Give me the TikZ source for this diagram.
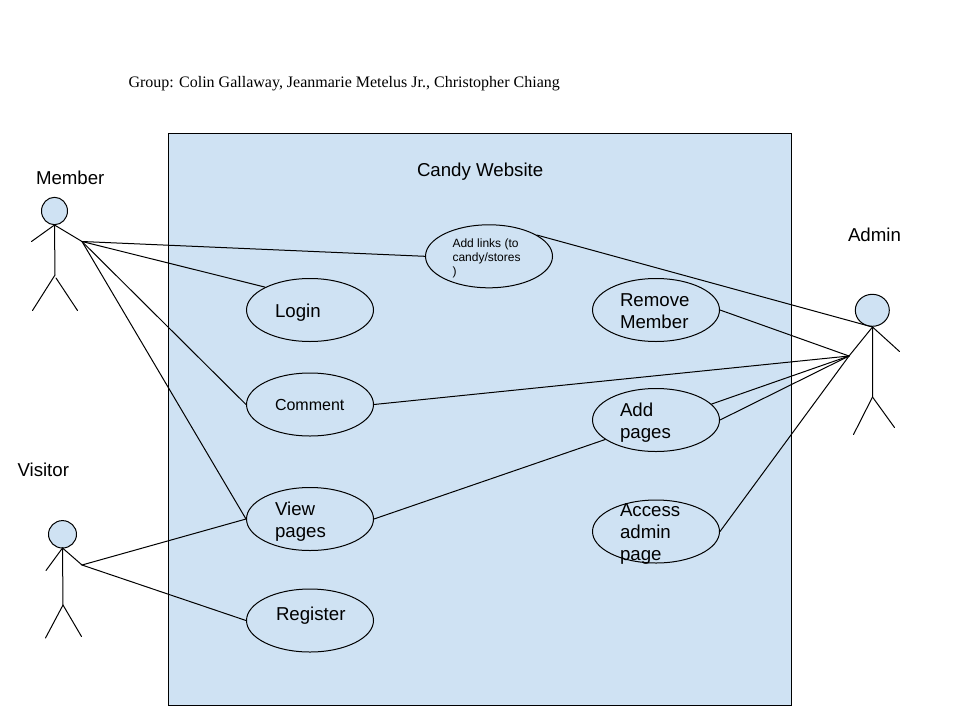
\documentclass[tikz,border=0pt]{standalone}
\usepackage{fontspec}
\setmainfont{Liberation Sans}
\newfontfamily\grpfont{Liberation Serif}
\usetikzlibrary{shapes.geometric}
\definecolor{boxblue}{HTML}{CFE2F3}
\tikzset{
  x=1pt,y=-1pt,
  line/.style={draw=black,line width=1pt,line cap=round,line join=round},
  usecase/.style={ellipse,draw=black,line width=1pt,fill=boxblue,inner sep=0pt,minimum width=127pt,minimum height=63pt},
  head/.style={line,fill=boxblue},
  txt/.style={inner sep=0pt,outer sep=0pt,anchor=base west,align=left},
  big/.style={txt,font=\fontsize{18.67}{22}\selectfont},
  mid/.style={txt,font=\fontsize{16}{22}\selectfont},
  small/.style={txt,font=\fontsize{12}{14}\selectfont},
  group/.style={txt,font=\grpfont\fontsize{16}{18}\selectfont},
}
\begin{document}
\begin{tikzpicture}
\useasboundingbox (0,0) rectangle (960,720);
\fill[white] (0,0) rectangle (960,720);
\node[group] (grp) at (128.5,87) {Group: Colin Gallaway, Jeanmarie Metelus Jr., Christopher Chiang};
\draw[line,fill=boxblue,line join=miter] (168.5,133) rectangle (791.5,705.5);
\node[big] (title) at (417,176) {Candy Website};
% use cases
\node[usecase] (links) at (489,256.3) {};
\node[usecase] (login) at (310,310) {};
\node[usecase] (remove) at (656,310) {};
\node[usecase] (comment) at (310,404.5) {};
\node[usecase] (addp) at (656,420) {};
\node[usecase] (view) at (310,519) {};
\node[usecase] (access) at (656,531.5) {};
\node[usecase] (register) at (310,620.5) {};
% use case texts
\node[small] (tlinks1) at (452.5,247) {Add links (to};
\node[small] (tlinks2) at (452.5,261) {candy/stores};
\node[small] (tlinks3) at (452.5,275) {)};
\node[big] (tlogin) at (275,317) {Login};
\node[big] (tremove1) at (620,306) {Remove};
\node[big] (tremove2) at (620,328) {Member};
\node[mid] (tcomment) at (275,410) {Comment};
\node[big] (tadd1) at (620,416) {Add};
\node[big] (tadd2) at (620,438) {pages};
\node[big] (tview1) at (275,515) {View};
\node[big] (tview2) at (275,537) {pages};
\node[big] (taccess1) at (620,516) {Access};
\node[big] (taccess2) at (620,538) {admin};
\node[big] (taccess3) at (620,560) {page};
\node[big] (tregister) at (276,620.5) {Register};
% actor labels
\node[big] (lmember) at (36,184) {Member};
\node[big] (lvisitor) at (17.5,476) {Visitor};
\node[big] (ladmin) at (848,241.7) {Admin};
% Member actor
\coordinate (mneck) at (54.5,225);
\coordinate (mhand) at (82,241.5);
\coordinate (mhip) at (55,275);
\draw[head] (54.5,211) ellipse [x radius=13,y radius=13.7];
\draw[line] (mneck) -- (31.5,241.5);
\draw[line] (mneck) -- (mhand);
\draw[line] (mneck) -- (mhip) -- (32.5,310.5);
\draw[line] (56,278) -- (77.5,310.5);
% Visitor actor
\coordinate (vneck) at (62.5,548);
\coordinate (vhand) at (82,565);
\coordinate (vhip) at (63,605);
\draw[head] (62.5,534.3) ellipse [x radius=14,y radius=13.7];
\draw[line] (vneck) -- (46,570.5);
\draw[line] (vneck) -- (vhand);
\draw[line] (vneck) -- (vhip) -- (45.5,638);
\draw[line] (vhip) -- (81.5,636.5);
% Admin actor
\coordinate (aneck) at (872.5,327);
\coordinate (ahand) at (849,356);
\coordinate (ahip) at (872.5,397);
\draw[head] (872.3,310.3) ellipse [x radius=17,y radius=16];
\draw[line] (aneck) -- (ahand);
\draw[line] (aneck) -- (899.5,351.5);
\draw[line] (aneck) -- (ahip) -- (853.5,434.5);
\draw[line] (ahip) -- (894.5,427.5);
% connectors
\draw[line] (mhand) -- (links.west);
\draw[line] (mhand) -- (login.153);
\draw[line] (mhand) -- (comment.west);
\draw[line] (mhand) -- (view.west);
\draw[line] (vhand) -- (view.west);
\draw[line] (vhand) -- (register.west);
\draw[line] (view.east) -- (addp.201);
\draw[line] (links.24) -- (aneck);
\draw[line] (remove.east) -- (ahand);
\draw[line] (comment.east) -- (ahand);
\draw[line] (addp.16) -- (ahand);
\draw[line] (addp.east) -- (ahand);
\draw[line] (access.east) -- (ahand);
\end{tikzpicture}
\end{document}
